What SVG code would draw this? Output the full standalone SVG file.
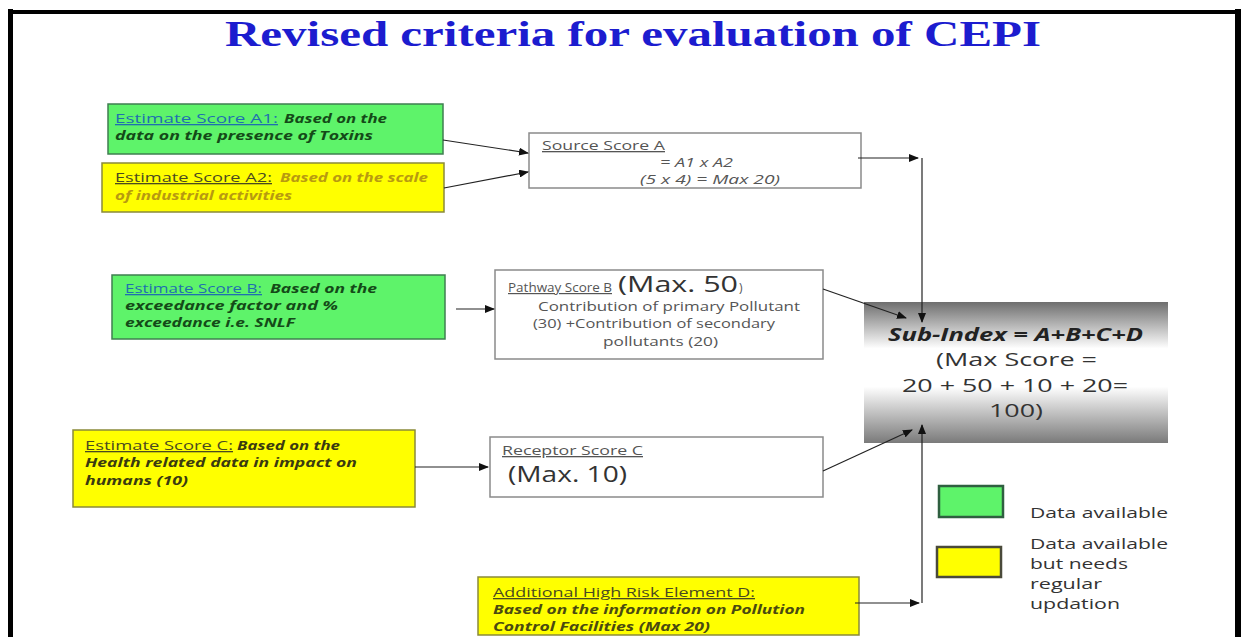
<svg xmlns="http://www.w3.org/2000/svg" width="1247" height="637" viewBox="0 0 1247 637">
<defs>
<marker id="ah" markerWidth="10" markerHeight="8" refX="9" refY="4" orient="auto" markerUnits="userSpaceOnUse">
<path d="M0,0 L10,4 L0,8 Z" fill="#111"/>
</marker>
<linearGradient id="gr" x1="0" y1="0" x2="0" y2="1">
<stop offset="0" stop-color="#6e6e6e"/>
<stop offset="0.33" stop-color="#ffffff"/>
<stop offset="0.6" stop-color="#ffffff"/>
<stop offset="1" stop-color="#7a7a7a"/>
</linearGradient>
</defs>
<style>
.green{fill:#5ef36a;stroke:#3f7f50;stroke-width:1.5}
.yellow{fill:#ffff00;stroke:#8a8a3a;stroke-width:1.5}
.white{fill:#ffffff;stroke:#8a8a8a;stroke-width:1.5}
.t{font-family:"Open Sans","Liberation Sans",sans-serif;font-size:13px}
.it{font-style:italic;font-weight:bold}
.u{text-decoration:underline}
.g{fill:#555555}
.conn line{stroke:#222;stroke-width:1.2;fill:none}
</style>
<rect width="1247" height="637" fill="#ffffff"/>
<line x1="10.5" y1="9" x2="10.5" y2="637" stroke="#000" stroke-width="5"/>
<line x1="10" y1="12" x2="1238" y2="12" stroke="#000" stroke-width="4"/>
<line x1="1238" y1="9" x2="1238" y2="637" stroke="#000" stroke-width="6"/>
<text x="633" y="46" text-anchor="middle" font-family="'Liberation Serif',serif" font-weight="bold" font-size="36" fill="#1c1ccf" textLength="816" lengthAdjust="spacingAndGlyphs">Revised criteria for evaluation of CEPI</text>

<g id="a1">
<rect class="green" x="108" y="104" width="335" height="50"/>
<text class="t u" x="115" y="123" fill="#1f6fb0" textLength="163" lengthAdjust="spacingAndGlyphs">Estimate Score A1:</text>
<text class="t it" x="284" y="123" fill="#144a18" textLength="103" lengthAdjust="spacingAndGlyphs">Based on the</text>
<text class="t it" x="115" y="140" fill="#144a18" textLength="258" lengthAdjust="spacingAndGlyphs">data on the presence of Toxins</text>
</g>
<g id="a2">
<rect class="yellow" x="102" y="163" width="342" height="49"/>
<text class="t u" x="115" y="182" fill="#4a4a20" textLength="157" lengthAdjust="spacingAndGlyphs">Estimate Score A2:</text>
<text class="t it" x="280" y="182" fill="#b89a10" textLength="148" lengthAdjust="spacingAndGlyphs">Based on the scale</text>
<text class="t it" x="115" y="200" fill="#b89a10" textLength="177" lengthAdjust="spacingAndGlyphs">of industrial activities</text>
</g>
<g id="sourceA">
<rect class="white" x="529" y="133" width="332" height="55"/>
<text class="t g u" x="542" y="150" textLength="123" lengthAdjust="spacingAndGlyphs">Source Score A</text>
<text class="t g" x="660" y="167" font-style="italic" textLength="73" lengthAdjust="spacingAndGlyphs">= A1 x A2</text>
<text class="t g" x="640" y="184" font-style="italic" textLength="140" lengthAdjust="spacingAndGlyphs">(5 x 4) = Max 20)</text>
</g>
<g id="b">
<rect class="green" x="112" y="275" width="333" height="64"/>
<text class="t u" x="125" y="293" fill="#1f6fb0" textLength="137" lengthAdjust="spacingAndGlyphs">Estimate Score B:</text>
<text class="t it" x="270" y="293" fill="#144a18" textLength="107" lengthAdjust="spacingAndGlyphs">Based on the</text>
<text class="t it" x="125" y="310" fill="#144a18" textLength="213" lengthAdjust="spacingAndGlyphs">exceedance factor and %</text>
<text class="t it" x="125" y="327" fill="#144a18" textLength="170" lengthAdjust="spacingAndGlyphs">exceedance i.e. SNLF</text>
</g>
<g id="pathwayB">
<rect class="white" x="495" y="270" width="328" height="89"/>
<text class="t g u" x="508" y="292" style="font-size:12px" textLength="104" lengthAdjust="spacingAndGlyphs">Pathway Score B</text>
<text class="t" x="618" y="292" style="font-size:21px" fill="#333" textLength="120" lengthAdjust="spacingAndGlyphs">(Max. 50</text>
<text class="t g" x="739" y="292" style="font-size:12px">)</text>
<text class="t g" x="538" y="311" textLength="262" lengthAdjust="spacingAndGlyphs">Contribution of primary  Pollutant</text>
<text class="t g" x="533" y="328" textLength="242" lengthAdjust="spacingAndGlyphs">(30) +Contribution of secondary</text>
<text class="t g" x="603" y="346" textLength="115" lengthAdjust="spacingAndGlyphs">pollutants (20)</text>
</g>
<g id="subindex">
<rect x="864" y="302" width="304" height="141" fill="url(#gr)"/>
<text class="t" x="888" y="341" style="font-size:18px" font-weight="bold" font-style="italic" fill="#222" textLength="255" lengthAdjust="spacingAndGlyphs">Sub-Index = A+B+C+D</text>
<text class="t" x="936" y="366" style="font-size:19px" fill="#333" textLength="161" lengthAdjust="spacingAndGlyphs">(Max Score =</text>
<text class="t" x="902" y="392" style="font-size:19px" fill="#333" textLength="226" lengthAdjust="spacingAndGlyphs">20 + 50 + 10 + 20=</text>
<text class="t" x="989" y="417" style="font-size:19px" fill="#333" textLength="54" lengthAdjust="spacingAndGlyphs">100)</text>
</g>
<g id="c">
<rect class="yellow" x="73" y="430" width="342" height="77"/>
<text class="t u" x="85" y="450" fill="#4a4a20" textLength="148" lengthAdjust="spacingAndGlyphs">Estimate Score C:</text>
<text class="t it" x="237" y="450" fill="#3a3a10" textLength="103" lengthAdjust="spacingAndGlyphs">Based on the</text>
<text class="t it" x="85" y="467" fill="#3a3a10" textLength="272" lengthAdjust="spacingAndGlyphs">Health related data in impact on</text>
<text class="t it" x="85" y="485" fill="#3a3a10" textLength="103" lengthAdjust="spacingAndGlyphs">humans (10)</text>
</g>
<g id="receptorC">
<rect class="white" x="490" y="437" width="333" height="60"/>
<text class="t g u" x="502" y="455" textLength="141" lengthAdjust="spacingAndGlyphs">Receptor Score C</text>
<text class="t" x="508" y="482" style="font-size:21px" fill="#333" textLength="119" lengthAdjust="spacingAndGlyphs">(Max. 10)</text>
</g>
<g id="d">
<rect class="yellow" x="478" y="577" width="381" height="58"/>
<text class="t u" x="493" y="597" fill="#4a4a20" textLength="262" lengthAdjust="spacingAndGlyphs">Additional High Risk Element D:</text>
<text class="t it" x="493" y="614" fill="#4a4a10" textLength="312" lengthAdjust="spacingAndGlyphs">Based on the information on Pollution</text>
<text class="t it" x="493" y="631" fill="#4a4a10" textLength="217" lengthAdjust="spacingAndGlyphs">Control Facilities (Max 20)</text>
</g>
<g id="legend">
<rect x="939" y="486" width="64" height="31" fill="#5ef36a" stroke="#2f5f40" stroke-width="2.5"/>
<text class="t" x="1030" y="518" style="font-size:15px" fill="#333" textLength="138" lengthAdjust="spacingAndGlyphs">Data available</text>
<rect x="937" y="547" width="64" height="30" fill="#ffff00" stroke="#4a4a3a" stroke-width="2.5"/>
<text class="t" x="1030" y="549" style="font-size:14.5px" fill="#333" textLength="138" lengthAdjust="spacingAndGlyphs">Data available</text>
<text class="t" x="1030" y="569" style="font-size:14.5px" fill="#333" textLength="98" lengthAdjust="spacingAndGlyphs">but needs</text>
<text class="t" x="1030" y="589" style="font-size:14.5px" fill="#333" textLength="72" lengthAdjust="spacingAndGlyphs">regular</text>
<text class="t" x="1030" y="609" style="font-size:14.5px" fill="#333" textLength="90" lengthAdjust="spacingAndGlyphs">updation</text>
</g>
<g id="connectors" class="conn">
<line x1="443" y1="140" x2="528" y2="153" marker-end="url(#ah)"/>
<line x1="444" y1="188" x2="528" y2="172" marker-end="url(#ah)"/>
<line x1="858" y1="158" x2="918" y2="158" marker-end="url(#ah)"/>
<line x1="922" y1="158" x2="922" y2="322" marker-end="url(#ah)"/>
<line x1="456" y1="309" x2="494" y2="309" marker-end="url(#ah)"/>
<line x1="823" y1="289" x2="906" y2="318" marker-end="url(#ah)"/>
<line x1="415" y1="467" x2="488" y2="467" marker-end="url(#ah)"/>
<line x1="823" y1="471" x2="912" y2="430" marker-end="url(#ah)"/>
<line x1="855" y1="603" x2="919" y2="603" marker-end="url(#ah)"/>
<line x1="922" y1="603" x2="922" y2="425" marker-end="url(#ah)"/>
</g>
</svg>
